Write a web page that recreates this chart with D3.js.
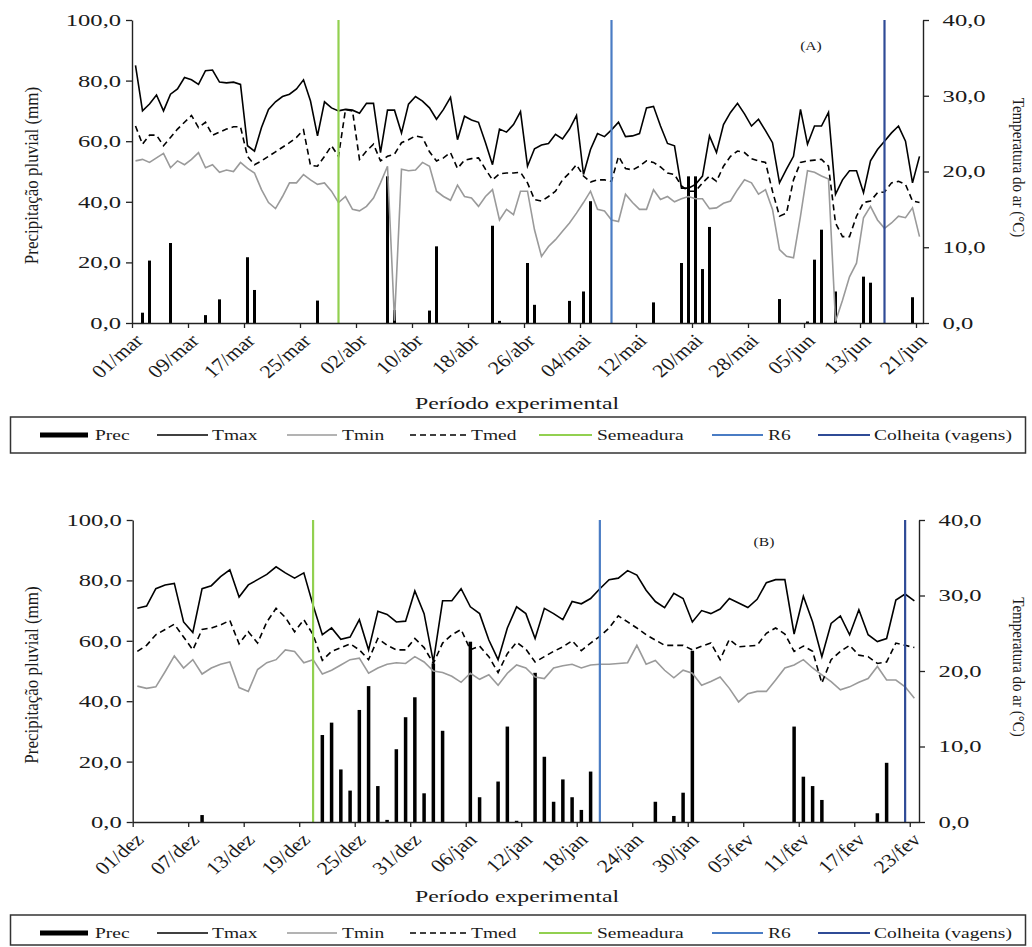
<!DOCTYPE html>
<html><head><meta charset="utf-8">
<script src="https://cdn.jsdelivr.net/npm/d3@7"></script>
<style>body{margin:0;background:#fff}svg{display:block}</style>
</head><body>
<svg id="c" width="1032" height="947"></svg>
<script>
// ---------- Panel A : 01/mar .. 21/jun (113 days) ----------
const tickLabelsA = ["01/mar","09/mar","17/mar","25/mar","02/abr","10/abr","18/abr","26/abr","04/mai","12/mai","20/mai","28/mai","05/jun","13/jun","21/jun"];
const tmaxA = [34.0,28.0,28.9,30.1,28.0,30.2,30.9,32.4,32.1,31.5,33.3,33.4,31.8,31.7,31.8,31.5,23.4,22.7,25.8,28.2,
29.2,29.9,30.2,30.9,32.1,29.3,24.7,29.2,28.4,28.0,28.2,28.1,27.7,29.0,29.0,22.5,28.1,28.1,25.1,28.9,
29.9,29.3,28.4,26.9,28.2,29.8,24.2,27.3,26.8,26.5,23.8,20.9,25.6,25.2,26.2,27.9,20.7,23.0,23.5,23.7,
24.9,24.3,25.6,27.4,19.6,22.9,25.0,24.6,25.5,26.5,24.6,24.7,25.0,28.4,28.6,26.0,23.7,23.4,17.8,17.8,
18.3,19.4,24.7,22.5,26.2,27.8,29.0,27.6,26.0,26.9,25.4,23.8,18.5,20.3,22.0,28.2,23.6,26.0,26.0,27.8,
17.0,18.9,20.1,20.1,17.2,21.4,22.9,24.0,25.1,26.0,24.0,18.5,22.0];
const tmedA = [26.0,23.6,24.8,24.8,23.4,24.5,25.6,26.5,27.4,25.8,26.5,24.8,25.2,25.6,25.9,25.9,22.0,20.9,21.4,22.0,
22.6,23.2,23.8,24.5,25.5,20.8,20.7,22.0,23.4,22.0,28.2,28.0,21.6,22.7,23.6,21.4,22.0,22.3,23.8,24.2,
24.7,24.5,22.6,21.4,21.8,22.5,20.4,21.5,21.7,21.8,20.3,18.9,19.7,19.8,19.8,19.9,18.5,16.3,16.1,16.7,
17.4,18.9,19.8,20.9,19.4,18.6,18.9,18.9,18.7,22.0,20.4,20.2,20.7,21.4,21.2,20.6,19.8,19.6,18.1,17.4,
17.4,18.5,19.4,18.7,20.7,22.0,22.7,22.5,21.7,21.4,21.2,17.4,14.1,14.5,18.9,21.2,21.4,21.5,21.6,20.7,
13.2,11.4,11.4,14.1,15.9,16.1,17.2,17.3,18.5,18.7,18.3,16.1,15.9];
const tminA = [21.4,21.6,21.2,21.8,22.4,20.5,21.4,20.9,21.6,22.5,20.5,20.9,19.9,20.2,20.0,21.2,20.4,19.8,17.6,15.9,
15.1,16.7,18.5,18.5,19.6,18.9,18.3,18.5,17.4,15.9,16.7,15.0,14.8,15.4,16.5,18.5,20.7,0.3,20.3,20.1,
20.2,21.2,20.7,17.4,16.7,16.2,18.2,16.7,16.5,15.4,16.7,17.6,13.6,15.0,14.3,17.4,17.4,12.3,8.8,10.1,
11.0,12.1,13.2,14.5,15.9,17.4,15.0,14.8,13.6,13.4,17.0,15.9,15.0,15.0,17.6,16.3,16.7,16.0,16.4,16.7,
16.4,16.4,15.1,15.2,15.8,16.1,17.6,18.9,18.5,17.0,17.6,15.0,9.7,8.8,8.6,14.1,20.1,19.9,19.4,19.0,
0.2,3.0,6.1,7.9,13.9,15.4,13.6,12.5,13.2,14.1,13.9,15.2,11.4];
const precA = [0,3.4,20.6,0,0,26.4,0,0,0,0,2.6,0,7.8,0,0,0,21.7,10.9,0,0,
0,0,0,0,0,0,7.4,0,0,0,0,0,0,0,0,0,48.4,4.3,0,0,
0,0,4.1,25.3,0,0,0,0,0,0,0,32.1,0.7,0,0,0,19.8,6.0,0,0,
0,0,7.3,0,10.4,40.2,0,0,0,0,0,0,0,0,6.8,0,0,0,19.8,48.4,
48.4,17.8,31.7,0,0,0,0,0,0,0,0,0,7.9,0,0,0,0.5,20.9,30.8,0,
10.4,0,0,0,15.3,13.3,0,0,0,0,0,8.5,0];
const eventsA = [29, 68, 107]; // Semeadura, R6, Colheita (day index)

// ---------- Panel B : 01/dez .. 23/fev (85 days) ----------
const tickLabelsB = ["01/dez","07/dez","13/dez","19/dez","25/dez","31/dez","06/jan","12/jan","18/jan","24/jan","30/jan","05/fev","11/fev","17/fev","23/fev"];
const tmaxB = [28.3,28.6,30.9,31.4,31.6,26.5,25.1,30.9,31.3,32.5,33.4,29.8,31.4,32.1,32.8,33.8,33.0,32.3,33.0,28.7,
24.8,25.7,24.2,24.5,26.8,22.8,27.9,27.5,26.5,26.6,30.6,27.6,21.2,29.3,29.3,30.9,28.5,27.6,24.1,21.5,
25.7,28.5,27.6,24.3,28.3,27.6,26.8,29.2,28.9,29.6,30.9,32.1,32.3,33.3,32.7,30.7,29.2,28.4,30.3,29.6,
26.5,28.0,27.6,28.2,29.6,29.0,28.4,29.5,31.7,32.1,32.1,24.9,29.9,26.5,21.9,26.3,27.3,24.8,28.1,24.8,
23.9,24.3,29.4,30.2,29.3];
const tmedB = [22.6,23.4,24.8,25.5,26.2,24.5,22.8,25.5,25.7,26.1,26.7,23.6,25.2,23.7,26.5,28.3,27.1,25.2,26.8,24.8,
21.4,22.6,23.1,23.6,22.8,21.5,24.3,23.4,22.8,22.8,24.3,23.1,21.0,23.7,24.8,25.5,22.8,23.3,21.9,19.8,
22.3,23.8,22.9,21.2,21.9,22.6,23.2,24.0,22.7,23.7,24.6,25.7,27.3,26.5,25.7,24.8,24.1,23.4,23.4,23.4,
22.8,23.3,23.7,21.5,24.2,23.2,23.3,23.4,25.0,25.7,24.9,22.6,23.3,22.6,18.4,21.5,22.6,23.4,22.1,21.9,
21.0,21.2,23.7,23.4,23.1];
const tminB = [18.0,17.7,17.9,19.9,22.0,20.4,21.5,19.6,20.4,20.9,21.2,17.8,17.3,20.2,21.1,21.5,22.8,22.6,21.1,21.5,
19.6,20.1,20.8,21.5,21.7,19.7,20.4,20.9,21.1,21.0,21.9,21.2,20.0,19.8,19.3,18.5,19.7,18.9,19.5,18.1,
19.7,20.8,20.4,19.2,19.0,20.4,20.7,20.9,20.4,20.8,20.9,20.9,21.0,21.1,23.4,20.9,21.4,20.1,19.1,20.1,
19.7,18.1,18.6,19.2,17.7,15.9,17.0,17.3,17.3,18.8,20.4,20.8,21.5,20.4,19.5,18.6,17.5,17.9,18.5,19.0,
20.6,18.8,18.8,17.9,16.4];
const precB = [0,0,0,0,0,0,0,2.3,0,0,0,0,0,0,0,0,0,0,0,0,
28.8,32.9,17.4,10.4,37.1,45.0,11.9,0.7,24.1,34.7,41.3,9.5,52.5,30.2,0,0,59.7,8.2,0,13.4,
31.6,0.4,0,49.4,21.6,6.7,14.1,8.2,4.0,16.7,0,0,0,0,0,0,6.7,0,2.0,9.7,
56.7,0,0,0,0,0,0,0,0,0,0,31.6,15.0,11.9,7.3,0,0,0,0,0,
2.9,19.6,0,0,0];
const eventsB = [19, 50, 83];

const precTicks = [0,20,40,60,80,100];
const tempTicks = [0,10,20,30,40];
const legendNames = ["Prec","Tmax","Tmin","Tmed","Semeadura","R6","Colheita (vagens)"];

// ---------- styling ----------
const FONT = "'Liberation Serif','Times New Roman',serif";
const C_TMIN = "#9a9a9a", C_SEM = "#92d050", C_R6 = "#4a7cc4", C_COL = "#2f4b96";
const eventColors = [C_SEM, C_R6, C_COL];
const fmt = d => d.toFixed(1).replace(".", ",");
const svg = d3.select("#c");

function stext(g, x, y, str, size, sx, anchor, rot) {
  const t = g.append("g").attr("transform", `translate(${x},${y}) scale(${sx},1)` + (rot ? ` rotate(${rot})` : ""))
    .append("text").text(str).attr("font-family", FONT).attr("font-size", size)
    .attr("fill", "#1a1a1a").attr("text-anchor", anchor || "start");
  return t;
}

function panel(o) {
  const g = svg.append("g");
  const n = o.tmax.length;
  const x = d3.scaleLinear().domain([-0.5, n - 0.5]).range([o.left, o.right]);
  const yP = d3.scaleLinear().domain([0, 100]).range([o.bottom, o.top]);
  const yT = d3.scaleLinear().domain([0, 40]).range([o.bottom, o.top]);

  // bars
  g.append("g").selectAll("rect").data(o.prec.map((v, i) => ({v, i})).filter(d => d.v > 0))
    .join("rect").attr("x", d => x(d.i) - o.bw / 2).attr("width", o.bw)
    .attr("y", d => yP(d.v)).attr("height", d => o.bottom - yP(d.v)).attr("fill", "#000");

  const line = d3.line().x((d, i) => x(i)).y(d => yT(d));
  g.append("path").datum(o.tmin).attr("d", line).attr("fill", "none").attr("stroke", C_TMIN).attr("stroke-width", 1.6);
  g.append("path").datum(o.tmed).attr("d", line).attr("fill", "none").attr("stroke", "#000").attr("stroke-width", 1.6).attr("stroke-dasharray", "6,4");
  g.append("path").datum(o.tmax).attr("d", line).attr("fill", "none").attr("stroke", "#000").attr("stroke-width", 1.6);

  // event lines
  o.events.forEach((d, k) => {
    g.append("line").attr("x1", x(d)).attr("x2", x(d)).attr("y1", o.top).attr("y2", o.bottom)
      .attr("stroke", eventColors[k]).attr("stroke-width", 2.2);
  });

  // axes
  const ax = d3.axisLeft(yP).tickValues(precTicks).tickSize(6).tickSizeOuter(0).tickFormat(fmt);
  const gl = g.append("g").attr("transform", `translate(${o.left},0)`).call(ax);
  const ar = d3.axisRight(yT).tickValues(tempTicks).tickSize(6).tickSizeOuter(0).tickFormat(fmt);
  const gr = g.append("g").attr("transform", `translate(${o.right},0)`).call(ar);
  const tickVals = o.ticks.map((_, k) => k * o.step - 0.5);
  const ab = d3.axisBottom(x).tickValues(tickVals).tickSize(5).tickSizeOuter(0).tickFormat((d, k) => o.ticks[k]);
  const gb = g.append("g").attr("transform", `translate(0,${o.bottom})`).call(ab);
  [gl, gr, gb].forEach(a => {
    a.select(".domain").attr("stroke", "#222").attr("stroke-width", 1.4);
    a.selectAll(".tick line").attr("stroke", "#222").attr("stroke-width", 1.3);
    a.selectAll("text").attr("font-family", FONT).attr("font-size", 17).attr("fill", "#1a1a1a");
  });
  gl.selectAll(".tick text").attr("x", -7.5).attr("transform", "scale(1.45,1)");
  gr.selectAll(".tick text").attr("x", 13.5).attr("transform", "scale(1.45,1)");
  gb.selectAll(".tick text").attr("x", 0).attr("y", 0).attr("dy", "0.3em").attr("text-anchor", "end")
    .attr("font-size", 18.5).attr("transform", "translate(7,15) scale(1.18,1) rotate(-45)");

  // titles
  stext(g, 38, (o.top + o.bottom) / 2 + 4, "Precipitação pluvial (mm)", 17, 1.15, "middle", -90);
  stext(g, 1013, (o.top + o.bottom) / 2 - 4, "Temperatura do ar (°C)", 15, 1.05, "middle", 90);
  stext(g, 517, o.titleY, "Período experimental", 17, 1.4, "middle");
  stext(g, o.labX, o.labY, o.lab, 12, 1.3, "middle");

  // legend
  const ly = o.legY;
  g.append("rect").attr("x", 10.5).attr("y", ly - 18).attr("width", 1015).attr("height", o.legH)
    .attr("fill", "none").attr("stroke", "#333").attr("stroke-width", 1.5);
  const items = [
    {x1: 40, x2: 88, c: "#000", w: 5, t: 95},
    {x1: 157, x2: 208, c: "#000", w: 1.6, t: 212},
    {x1: 287, x2: 337, c: C_TMIN, w: 1.6, t: 342},
    {x1: 410, x2: 467, c: "#000", w: 1.6, t: 471, dash: "6,4"},
    {x1: 539, x2: 592, c: C_SEM, w: 2.2, t: 597},
    {x1: 712, x2: 763, c: C_R6, w: 2.2, t: 768},
    {x1: 818, x2: 870, c: C_COL, w: 2.2, t: 874}
  ];
  items.forEach((it, k) => {
    g.append("line").attr("x1", it.x1).attr("x2", it.x2).attr("y1", ly).attr("y2", ly)
      .attr("stroke", it.c).attr("stroke-width", it.w).attr("stroke-dasharray", it.dash || null);
    stext(g, it.t, ly + 5, legendNames[k], 15, 1.3, "start");
  });
}

panel({left: 132, right: 923, top: 20, bottom: 323, step: 8, ticks: tickLabelsA,
  tmax: tmaxA, tmin: tminA, tmed: tmedA, prec: precA, events: eventsA, bw: 3,
  lab: "(A)", labX: 811, labY: 50, titleY: 409, legY: 435, legH: 36});
panel({left: 132.7, right: 919, top: 520, bottom: 822, step: 6, ticks: tickLabelsB,
  tmax: tmaxB, tmin: tminB, tmed: tmedB, prec: precB, events: eventsB, bw: 3.5,
  lab: "(B)", labX: 764, labY: 546, titleY: 902, legY: 933, legH: 30});
</script>
</body></html>
